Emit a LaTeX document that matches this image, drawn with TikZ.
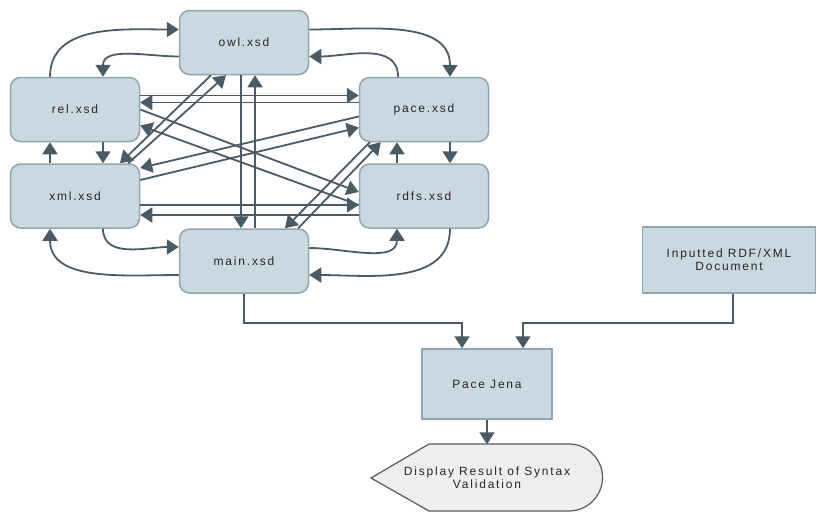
\documentclass[tikz,border=0pt]{standalone}
\usepackage{fontspec}
\setmainfont{Liberation Sans}[LetterSpace=15]
\usetikzlibrary{arrows.meta}

\definecolor{nodefill}{HTML}{CBD8E0}
\definecolor{nodeline}{HTML}{8DA7B6}
\definecolor{linkc}{HTML}{4B5B65}
\definecolor{txt}{HTML}{262626}
\definecolor{dispfill}{HTML}{EEEEEE}
\definecolor{displine}{HTML}{5A5A5A}

\begin{document}
\begin{tikzpicture}[x=1pt,y=1pt,
  lbl/.style={text=txt, font=\fontsize{12}{13}\selectfont},
  xsdbox/.style={lbl, draw=nodeline, fill=nodefill, line width=1.5pt,
    rounded corners=10pt, minimum width=129pt, minimum height=64pt, inner sep=0pt},
  procbox/.style={lbl, draw=nodeline, fill=nodefill, line width=1.5pt,
    inner sep=0pt, align=center},
  link/.style={draw=linkc, line width=1.8pt, -{Triangle[length=12pt,width=15pt]}},
]
\useasboundingbox (0,0) rectangle (816,-512);

% schema files
\node[xsdbox] (owl)  at (244,-42.5)  {owl.xsd};
\node[xsdbox] (rel)  at (75,-109.5)  {rel.xsd};
\node[xsdbox] (pace) at (424,-109.5) {pace.xsd};
\node[xsdbox] (xml)  at (75,-196)    {xml.xsd};
\node[xsdbox] (rdfs) at (424,-196)   {rdfs.xsd};
\node[xsdbox] (main) at (244,-261)   {main.xsd};

% processing boxes
\node[procbox, minimum width=173pt, minimum height=66pt] (inp) at (729,-260) {Inputted RDF/XML\\Document};
\node[procbox, minimum width=130pt, minimum height=70pt] (jena) at (487,-384) {Pace Jena};

% display terminal
\draw[fill=dispfill, draw=displine, line width=1.2pt]
  (371,-478) -- (429,-444) -- (569,-444) arc[start angle=90, end angle=-90, radius=33.5]
  -- (429,-511) -- cycle;
\node[lbl, align=center, minimum width=232pt, minimum height=67pt, inner sep=0pt] (disp) at (487,-478)
  {Display Result of Syntax\\Validation};

% outer curved links
\draw[link] ([xshift=-25pt]rel.north) to[out=90,in=180] ([yshift=13pt]owl.west);
\draw[link] ([yshift=-14pt]owl.west) to[out=180,in=90] ([xshift=28pt]rel.north);
\draw[link] ([yshift=13pt]owl.east) to[out=0,in=90] ([xshift=26pt]pace.north);
\draw[link] ([xshift=-26pt]pace.north) to[out=90,in=0] ([yshift=-14pt]owl.east);
\draw[link] ([xshift=28pt]xml.south) to[out=-90,in=180] ([yshift=14pt]main.west);
\draw[link] ([yshift=-14pt]main.west) to[out=180,in=-90] ([xshift=-25pt]xml.south);
\draw[link] ([yshift=13pt]main.east) to[out=0,in=-90] ([xshift=-27pt]rdfs.south);
\draw[link] ([xshift=26pt]rdfs.south) to[out=-90,in=0] ([yshift=-14pt]main.east);

% short vertical links
\draw[link] ([xshift=28pt]rel.south) -- ([xshift=28pt]xml.north);
\draw[link] ([xshift=-25pt]xml.north) -- ([xshift=-25pt]rel.south);
\draw[link] ([xshift=26pt]pace.south) -- ([xshift=26pt]rdfs.north);
\draw[link] ([xshift=-27pt]rdfs.north) -- ([xshift=-27pt]pace.south);

% horizontal links
\draw[link] ([yshift=14pt]rel.east) -- ([yshift=14pt]pace.west);
\draw[link] ([yshift=7pt]pace.west) -- ([yshift=7pt]rel.east);
\draw[link] ([yshift=-9pt]xml.east) -- ([yshift=-9pt]rdfs.west);
\draw[link] ([yshift=-19pt]rdfs.west) -- ([yshift=-19pt]xml.east);

% crossing links
\draw[link] (rel.east) -- ([yshift=4pt]rdfs.west);
\draw[link] ([yshift=-9pt]rdfs.west) -- ([yshift=-16pt]rel.east);
\draw[link] ([yshift=-7pt]pace.west) -- ([yshift=28pt]xml.east);
\draw[link] ([yshift=16pt]xml.east) -- ([yshift=-18pt]pace.west);
\draw[link] ([xshift=-33pt]owl.south) -- ([xshift=45pt]xml.north);
\draw[link] ([xshift=-12pt]xml.north east) -- ([xshift=-18pt]owl.south);
\draw[link] ([xshift=-3pt]owl.south) -- ([xshift=-3pt]main.north);
\draw[link] ([xshift=11pt]main.north) -- ([xshift=11pt]owl.south);
\draw[link] ([xshift=11pt]pace.south west) -- ([xshift=41pt]main.north);
\draw[link] ([xshift=-11pt]main.north east) -- ([xshift=22pt]pace.south west);

% validation flow
\draw[link] (main.south) -- ++(0,-29) -| ([xshift=-25pt]jena.north);
\draw[link] ([xshift=4pt]inp.south) -- ++(0,-29) -| ([xshift=36pt]jena.north);
\draw[link] (jena) -- (disp);
\end{tikzpicture}
\end{document}
